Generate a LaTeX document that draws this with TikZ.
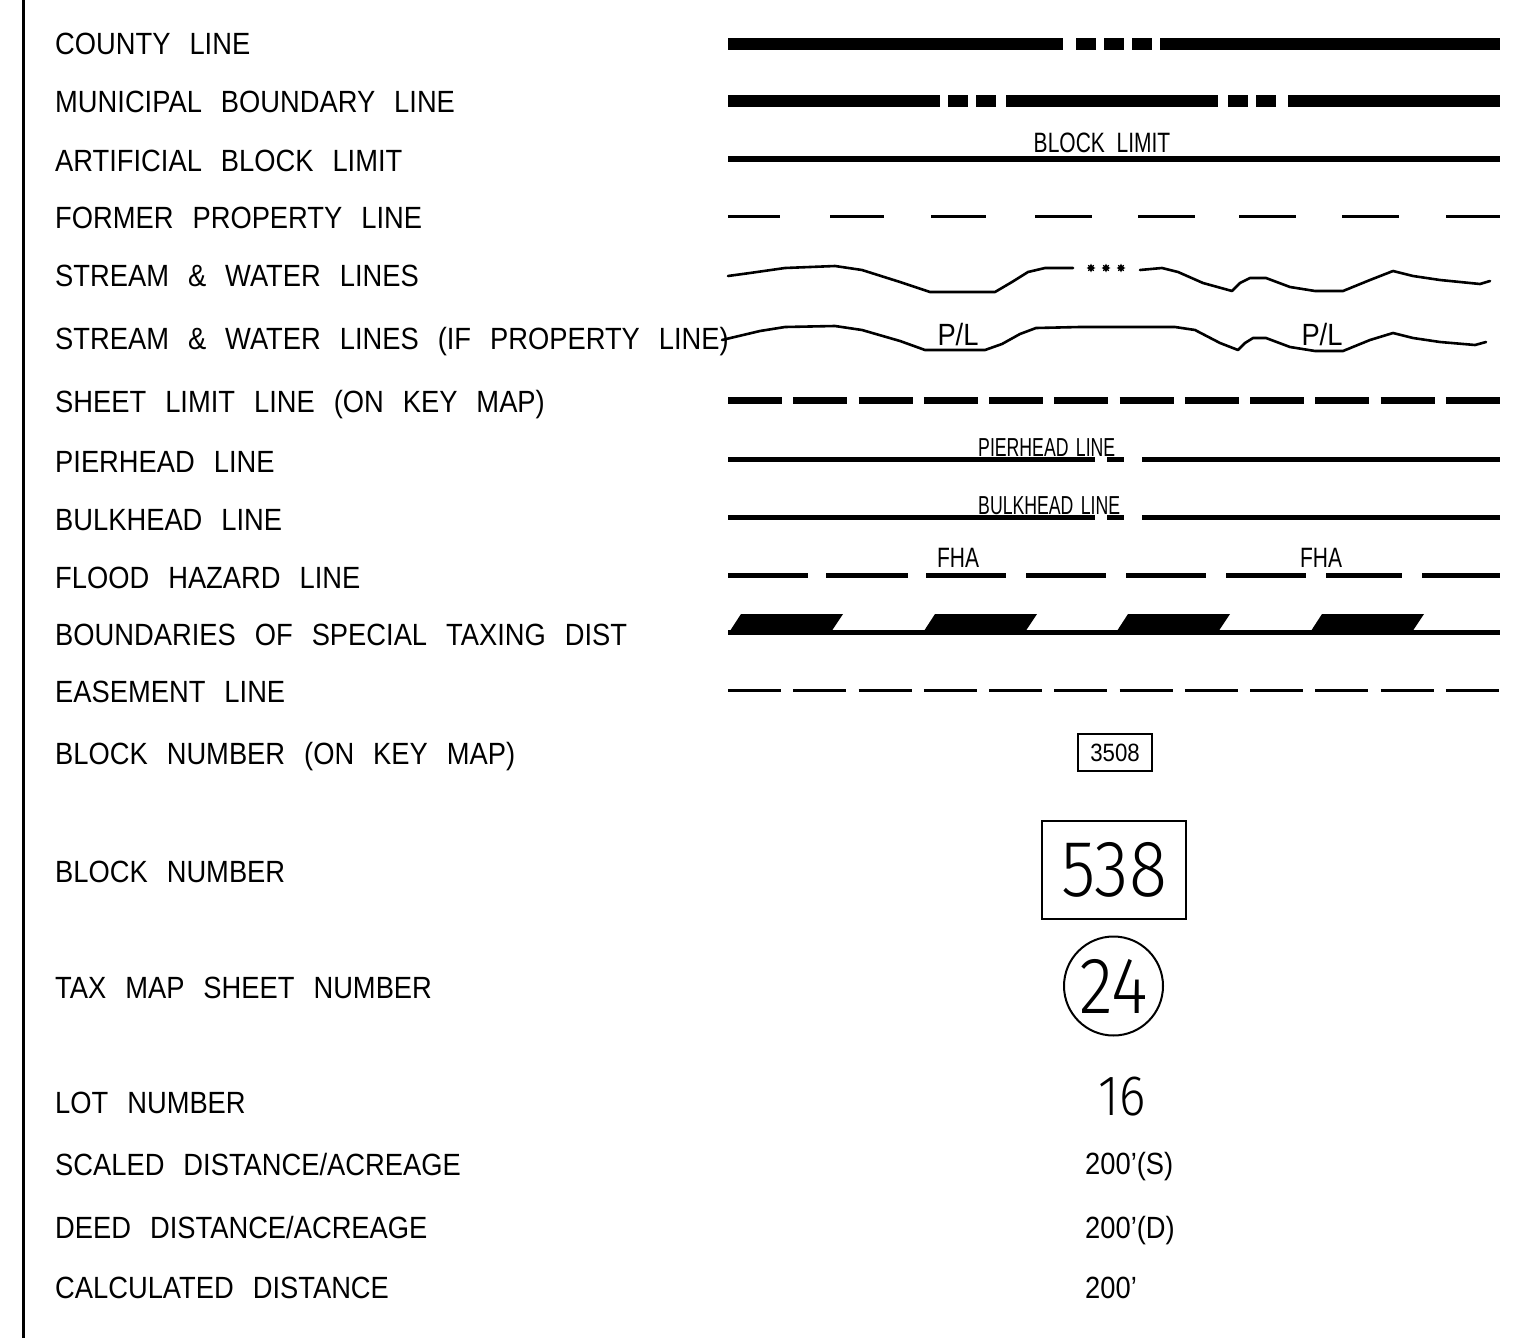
\documentclass[tikz,border=0pt]{standalone}
\usepackage{fontspec}
\setmainfont{Liberation Sans}
\newfontfamily\cadfont{Liberation Sans}[FakeStretch=0.89,WordSpace=2.5]
\newfontfamily\narrowfont{Liberation Sans}[FakeStretch=0.75,WordSpace=2]
\newfontfamily\tinyfont{Liberation Sans}[FakeStretch=0.68,WordSpace=1.5]
\newfontfamily\thinfont{Fira Sans Light}[FakeStretch=0.88]
\usetikzlibrary{shapes.geometric}
\tikzset{
  lbl/.style={anchor=base west, inner sep=0pt, font=\cadfont\fontsize{30.7}{34}\selectfont},
  small/.style={anchor=base, inner sep=0pt, font=\narrowfont\fontsize{28}{30}\selectfont},
  tiny/.style={anchor=base west, inner sep=0pt, font=\tinyfont\fontsize{26}{28}\selectfont},
  big/.style={inner sep=0pt, font=\thinfont\fontsize{80}{84}\selectfont},
  heavy/.style={line width=12pt},
  medium/.style={line width=5pt},
  thinl/.style={line width=3pt},
  wave/.style={line width=2.6pt, line join=round, line cap=round},
  dot/.style={star, star points=8, star point ratio=1.8, minimum size=9pt, inner sep=0pt, fill=black}
}
\begin{document}
\begin{tikzpicture}[x=1pt,y=-1pt]
\useasboundingbox (0,0) rectangle (1521,1338);
\draw[line width=3pt] (23,0) -- (23,1338);

% left labels
\node[lbl] (l1) at (55,55) {COUNTY LINE};
\node[lbl] (l2) at (55,113) {MUNICIPAL BOUNDARY LINE};
\node[lbl] (l3) at (55,171) {ARTIFICIAL BLOCK LIMIT};
\node[lbl] (l4) at (55,228) {FORMER PROPERTY LINE};
\node[lbl] (l5) at (55,286) {STREAM \& WATER LINES};
\node[lbl] (l6) at (55,349) {STREAM \& WATER LINES (IF PROPERTY LINE)};
\node[lbl] (l7) at (55,412) {SHEET LIMIT LINE (ON KEY MAP)};
\node[lbl] (l8) at (55,472) {PIERHEAD LINE};
\node[lbl] (l9) at (55,530) {BULKHEAD LINE};
\node[lbl] (l10) at (55,588) {FLOOD HAZARD LINE};
\node[lbl] (l11) at (55,645) {BOUNDARIES OF SPECIAL TAXING DIST};
\node[lbl] (l12) at (55,702) {EASEMENT LINE};
\node[lbl] (l13) at (55,764) {BLOCK NUMBER (ON KEY MAP)};
\node[lbl] (l14) at (55,882) {BLOCK NUMBER};
\node[lbl] (l15) at (55,998) {TAX MAP SHEET NUMBER};
\node[lbl] (l16) at (55,1113) {LOT NUMBER};
\node[lbl] (l17) at (55,1175) {SCALED DISTANCE/ACREAGE};
\node[lbl] (l18) at (55,1238) {DEED DISTANCE/ACREAGE};
\node[lbl] (l19) at (55,1298) {CALCULATED DISTANCE};

% county line
\draw[heavy] (728,44)--(1063,44) (1076,44)--(1096,44) (1104,44)--(1124,44)
  (1132,44)--(1152,44) (1160,44)--(1500,44);
% municipal boundary
\draw[heavy] (728,101)--(940,101) (948,101)--(968,101) (976,101)--(996,101)
  (1006,101)--(1218,101) (1228,101)--(1248,101) (1256,101)--(1276,101) (1288,101)--(1500,101);
% artificial block limit
\draw[line width=6pt] (728,159)--(1500,159);
\node[small] (bl) at (1102,152) {BLOCK LIMIT};
% former property line
\foreach \a/\b in {728/780,830/884,931/986,1035/1092,1138/1195,1239/1296,1342/1399,1446/1500}
  \draw[thinl] (\a,216)--(\b,216);
% stream line
\draw[wave] (728,276)--(750,273)--(785,268)--(835,266)--(862,270)--(900,282)--(930,292)--(995,292)
  --(1012,282)--(1028,272)--(1045,268)--(1073,268);
\node[dot] (s1) at (1091,268) {};
\node[dot] (s2) at (1106,268) {};
\node[dot] (s3) at (1121,268) {};
\draw[wave] (1140,270)--(1162,268)--(1178,272)--(1203,283)--(1232,291)--(1240,283)--(1250,278)
  --(1266,278)--(1290,287)--(1315,291)--(1343,291)--(1370,280)--(1393,271)--(1413,276)
  --(1440,280)--(1480,284)--(1490,281);
% stream (property line)
\draw[wave] (722,340)--(760,331)--(785,327)--(835,326)--(862,330)--(900,341)--(925,350)--(985,350)
  --(1002,344)--(1020,334)--(1036,328)--(1080,327)--(1175,327)--(1195,330)--(1220,343)--(1238,350)
  --(1245,343)--(1253,338)--(1266,338)--(1290,347)--(1315,351)--(1343,351)--(1370,340)
  --(1393,333)--(1413,338)--(1440,342)--(1475,345)--(1486,342);
\node[lbl, anchor=base] (pl1) at (958,345) {P/L};
\node[lbl, anchor=base] (pl2) at (1322,345) {P/L};
% sheet limit line
\foreach \i in {0,...,11}
  \draw[line width=7pt] ({728+\i*65.27},400)--({782+\i*65.27},400);
% pierhead
\draw[medium] (728,459)--(1095,459) (1107,459)--(1124,459) (1142,459)--(1500,459);
\node[tiny] (ph) at (978,456) {PIERHEAD LINE};
% bulkhead
\draw[medium] (728,517)--(1095,517) (1107,517)--(1124,517) (1142,517)--(1500,517);
\node[tiny] (bh) at (978,514) {BULKHEAD LINE};
% flood hazard
\foreach \a/\b in {728/808,826/908,926/1006,1026/1106,1126/1206,1226/1306,1326/1402,1422/1500}
  \draw[medium] (\a,575)--(\b,575);
\node[small] (f1) at (958,567) {FHA};
\node[small] (f2) at (1321,567) {FHA};
% special taxing district
\draw[medium] (728,632)--(1500,632);
\foreach \t in {741,935,1128,1322}
  \fill (\t-13,634)--(\t,614)--(\t+102,614)--(\t+90,632)--cycle;
% easement
\foreach \i in {0,...,11}
  \draw[thinl] ({728+\i*65.27},690)--({781+\i*65.27},690);
% block number key map
\node[draw, line width=2pt, minimum width=74pt, minimum height=37pt, inner sep=0pt,
  font=\cadfont\fontsize{25}{27}\selectfont] (bk) at (1115,752.5) {3508};
% block number
\draw[line width=2pt] (1042,821) rectangle (1186,919);
\node[big] (bn) at (1114,870) {538};
% tax map sheet
\draw[line width=2pt] (1113.5,986) circle[radius=49.5];
\node[big] (ts) at (1113.5,986) {24};
% lot
\node[inner sep=0pt, font=\thinfont\fontsize{57}{60}\selectfont] (lot) at (1122,1097) {16};
% distances
\node[lbl] (d1) at (1085,1174) {200’(S)};
\node[lbl] (d2) at (1085,1238) {200’(D)};
\node[lbl] (d3) at (1085,1298) {200’};
\end{tikzpicture}
\end{document}
